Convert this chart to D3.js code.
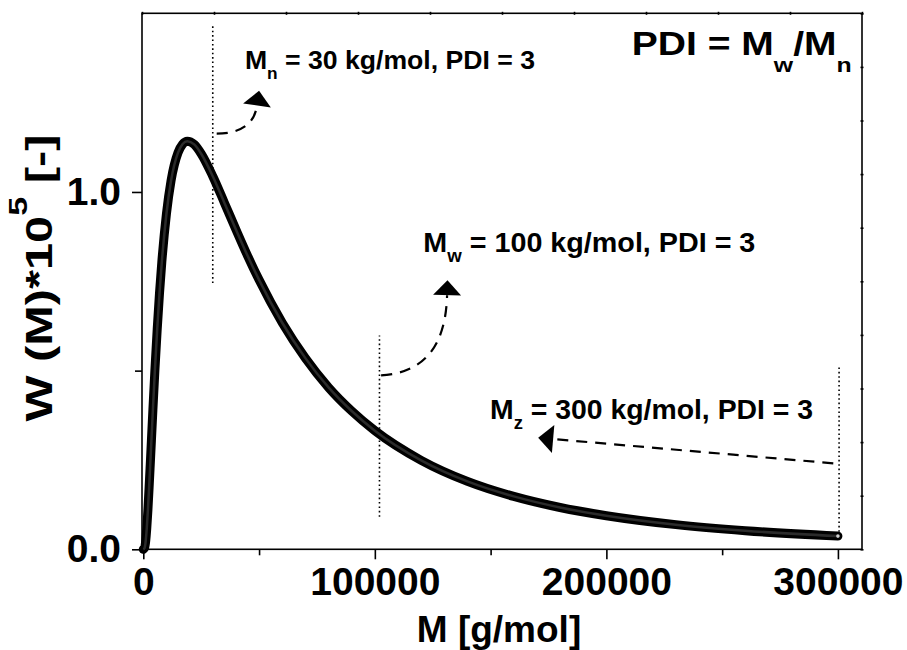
<!DOCTYPE html>
<html>
<head>
<meta charset="utf-8">
<script src="https://cdn.jsdelivr.net/npm/d3@7"></script>
<style>
    body { margin: 0; background: #fff; }
    #mwd-chart text { font-family: "Liberation Sans", Arial, sans-serif; font-weight: bold; fill: #000; }
    .frame-line { stroke: #000; stroke-width: 1.6; fill: none; }
    .axis path { display: none; }
    .axis line { stroke: #000; stroke-width: 1.6; }
    .average-line { stroke: #000; stroke-width: 1.6; stroke-dasharray: 1.6, 2.8; fill: none; }
    .arrow-line { stroke: #000; stroke-width: 2.2; stroke-dasharray: 11, 8; fill: none; }
    .arrow-head { fill: #000; stroke: none; }
    .curve-outer { stroke: #000; stroke-width: 9; fill: none; stroke-linecap: round; stroke-linejoin: round; }
    .curve-inner { stroke: #2b2b2b; stroke-width: 2.5; fill: none; }
</style>
</head>
<body>
<div id="mwd-chart"></div>
<script>
// Molar mass M [g/mol] of the points
let massValues = [0, 500, 1000, 1500, 2000, 2500, 3000, 4000, 5000, 6000, 7000, 8000, 10000, 12000,
    15000, 17000, 19000, 22000, 25000, 30000, 35000, 40000, 45000, 50000, 60000, 70000, 80000, 90000,
    100000, 120000, 140000, 160000, 180000, 200000, 230000, 260000, 300000];
// W(M)*10^5 [-] at those masses
let weightValues = [0, 0.003, 0.021, 0.059, 0.111, 0.172, 0.237, 0.371, 0.500, 0.615, 0.717, 0.804, 0.939, 1.032,
    1.110, 1.134, 1.142, 1.133, 1.107, 1.044, 0.970, 0.895, 0.822, 0.754, 0.634, 0.535, 0.453, 0.387,
    0.332, 0.249, 0.190, 0.148, 0.117, 0.094, 0.069, 0.052, 0.037];

// Axis ticks
let xTickValues = [0, 100000, 200000, 300000];
let xMinorTickValues = [50000, 150000, 250000];
let yTickValues = [0.0, 1.0];
let yMinorTickValues = [0.5];

// Averages Mn, Mw, Mz marked with dotted lines (mass, bottom and top of the line)
let averageSubscripts = ["n", "w", "z"];
let averageMasses = [30000, 102000, 300500];
let averageLineBottoms = [0.745, 0.091, 0.049];
let averageLineTops = [1.466, 0.598, 0.511];

// Label texts and where they sit (mass, W value of the baseline)
let labelTexts = [" = 30 kg/mol, PDI = 3", " = 100 kg/mol, PDI = 3", " = 300 kg/mol, PDI = 3"];
let labelMasses = [43900, 120950, 149760];
let labelWeights = [1.345, 0.832, 0.366];

// Dashed arrows from each dotted line to its label: start, bend, end (mass, W)
let arrowStarts = [[31700, 1.163], [102700, 0.487], [298000, 0.2405]];
let arrowBends = [[47400, 1.164], [130300, 0.496], [237500, 0.2745]];
let arrowEnds = [[49100, 1.242], [131200, 0.711], [177000, 0.3085]];

/**
 * Constructor for the molar mass distribution chart
 */
function MwdChart(){
    let self = this;

    self.init();
};

/**
 * Creates the svg, scales and the frame with its ticks
 */
MwdChart.prototype.init = function(){
    let self = this;

    self.svg = d3.select("#mwd-chart").append("svg")
        .attr("width", 907)
        .attr("height", 650);

    self.x = d3.scaleLinear().domain([-560, 310400]).range([142, 862]);
    self.y = d3.scaleLinear().domain([0, 1.5]).range([549.3, 13.3]);

    // top and right axes only carry ten small divisions
    self.xTop = d3.scaleLinear().domain([0, 10]).range(self.x.range());
    self.yRight = d3.scaleLinear().domain([0, 10]).range(self.y.range());

    self.drawFrame();
};

/**
 * Draws box, ticks and tick labels
 */
MwdChart.prototype.drawFrame = function(){
    let self = this;
    let bottom = self.y.range()[0], top = self.y.range()[1];
    let left = self.x.range()[0], right = self.x.range()[1];

    self.svg.append("g")
        .attr("class", "axis")
        .attr("transform", "translate(0," + bottom + ")")
        .call(d3.axisBottom(self.x).tickValues(xTickValues).tickSize(10).tickPadding(8).tickFormat(d3.format("d")))
        .selectAll("text")
        .style("font-size", "39px");

    self.svg.append("g")
        .attr("class", "axis")
        .attr("transform", "translate(0," + bottom + ")")
        .call(d3.axisBottom(self.x).tickValues(xMinorTickValues).tickSize(6).tickFormat(""));

    self.svg.append("g")
        .attr("class", "axis")
        .attr("transform", "translate(" + left + ",0)")
        .call(d3.axisLeft(self.y).tickValues(yTickValues).tickSize(10).tickPadding(11).tickFormat(d3.format(".1f")))
        .selectAll("text")
        .style("font-size", "39px");

    self.svg.append("g")
        .attr("class", "axis")
        .attr("transform", "translate(" + left + ",0)")
        .call(d3.axisLeft(self.y).tickValues(yMinorTickValues).tickSize(7).tickFormat(""));

    // little ticks on the top and right edges
    self.svg.append("g")
        .attr("class", "axis")
        .attr("transform", "translate(0," + (top + 1.5) + ")")
        .call(d3.axisTop(self.xTop).ticks(10).tickSize(3).tickFormat(""));

    self.svg.append("g")
        .attr("class", "axis")
        .attr("transform", "translate(" + (right - 1.5) + ",0)")
        .call(d3.axisRight(self.yRight).ticks(10).tickSize(3).tickFormat(""));

    self.svg.append("rect")
        .attr("class", "frame-line")
        .attr("x", left)
        .attr("y", top)
        .attr("width", right - left)
        .attr("height", bottom - top);
};

/**
 * Adds a line of bold text with sub/superscript parts
 * @param parts -- array of [string, shift] where shift is 0 for normal text, >0 drop for subscript, <0 raise
 */
MwdChart.prototype.addText = function(x, y, size, smallSize, parts, length, anchor, rotate){
    let self = this;
    let text = self.svg.append("text")
        .attr("x", x)
        .attr("y", y)
        .style("font-size", size + "px")
        .attr("text-anchor", anchor);
    if(length){
        text.attr("textLength", length).attr("lengthAdjust", "spacingAndGlyphs");
    }
    if(rotate){
        text.attr("transform", "rotate(-90," + x + "," + y + ")");
    }
    let shift = 0;
    parts.forEach(function(p){
        text.append("tspan")
            .attr("dy", p[1] - shift)
            .style("font-size", (p[1] == 0 ? size : smallSize) + "px")
            .text(p[0]);
        shift = p[1];
    });
    return text;
};

/**
 * Draws the distribution, the average markers and all annotations
 */
MwdChart.prototype.update = function(){
    let self = this;
    let points = massValues.map(function(m, i){ return {m: m, w: weightValues[i]}; });

    // dotted lines at Mn, Mw, Mz
    averageMasses.forEach(function(m, i){
        self.svg.append("line")
            .attr("class", "average-line")
            .attr("x1", self.x(m))
            .attr("x2", self.x(m))
            .attr("y1", self.y(averageLineBottoms[i]))
            .attr("y2", self.y(averageLineTops[i]));
    });

    let line = d3.line()
        .x(function(d){ return self.x(d.m); })
        .y(function(d){ return self.y(d.w); })
        .curve(d3.curveMonotoneX);

    self.svg.append("path").datum(points).attr("class", "curve-outer").attr("d", line);
    self.svg.append("path").datum(points).attr("class", "curve-inner").attr("d", line);

    // last symbol of the scatter shows a light centre
    let last = points[points.length - 1];
    self.svg.append("circle")
        .attr("cx", self.x(last.m))
        .attr("cy", self.y(last.w))
        .attr("r", 1.8)
        .style("fill", "#d0d0d0");

    // dashed arrows
    arrowStarts.forEach(function(s, i){
        let p0 = [self.x(s[0]), self.y(s[1])];
        let p1 = [self.x(arrowBends[i][0]), self.y(arrowBends[i][1])];
        let p2 = [self.x(arrowEnds[i][0]), self.y(arrowEnds[i][1])];
        let path = d3.path();
        path.moveTo(p0[0], p0[1]);
        path.quadraticCurveTo(p1[0], p1[1], p2[0], p2[1]);
        self.svg.append("path").attr("class", "arrow-line").attr("d", path.toString());

        let dx = p2[0] - p1[0], dy = p2[1] - p1[1];
        let len = Math.sqrt(dx * dx + dy * dy);
        dx /= len; dy /= len;
        let head = [
            [p2[0] + dx * 15, p2[1] + dy * 15],
            [p2[0] - dy * 14, p2[1] + dx * 14],
            [p2[0] + dy * 14, p2[1] - dx * 14]
        ];
        self.svg.append("polygon")
            .attr("class", "arrow-head")
            .attr("points", head.map(function(p){ return p.join(","); }).join(" "));
    });

    // average labels
    let labelSizes = [26, 28, 28];
    let labelLengths = [290, 332, 323];
    labelTexts.forEach(function(t, i){
        self.addText(self.x(labelMasses[i]), self.y(labelWeights[i]), labelSizes[i], labelSizes[i] * 0.65,
            [["M", 0], [averageSubscripts[i], 10.5], [t, 0]], labelLengths[i], "start", false);
    });

    self.addText(self.x(210970), self.y(1.3823), 33, 21,
        [["PDI = M", 0], ["w", 16.5], ["/M", 0], ["n", 16.5]], 220, "start", false);

    // axis titles
    self.addText(499, 642, 37, 37, [["M [g/mol]", 0]], null, "middle", false);
    self.addText(52, 278, 37, 26, [["W (M)*10", 0], ["5", -25], [" [-]", 0]], 287, "middle", true);
};

let chart = new MwdChart();
chart.update();
</script>
</body>
</html>
